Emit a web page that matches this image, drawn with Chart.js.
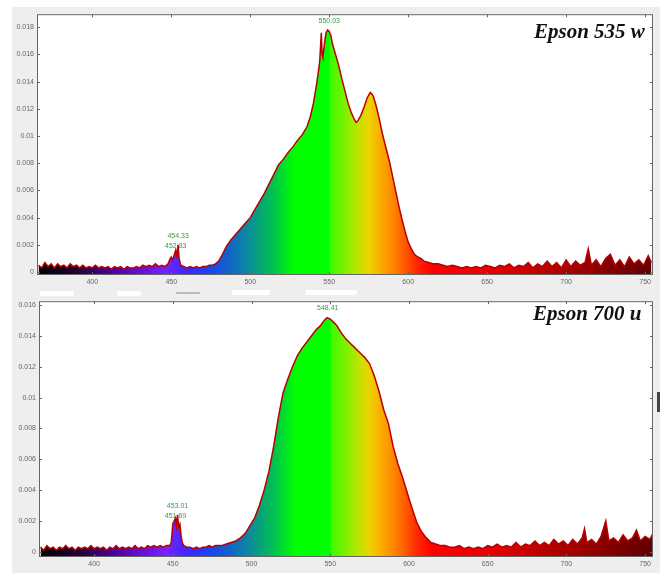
<!DOCTYPE html>
<html>
<head>
<meta charset="utf-8">
<script src="https://cdn.jsdelivr.net/npm/chart.js@4/dist/chart.umd.min.js"></script>
<style>
  body { margin: 0; background: #fff; width: 662px; height: 573px; overflow: hidden; position: relative; font-family: "Liberation Sans", Arial, sans-serif; }
  #panel { position: absolute; left: 12px; top: 7px; width: 648px; height: 566px; background: #eeeeee; }
  canvas { position: absolute; left: 0px; }
  .title { position: absolute; font-family: "Liberation Serif", "DejaVu Serif", serif; font-weight: bold; font-style: italic; font-size: 21px; color: #111; white-space: nowrap; }
  .bar { position: absolute; height: 5px; background: #fff; border-radius: 2px; }
</style>
</head>
<body>
<div id="panel"></div>
<div class="bar" style="left:40px;top:291px;width:34px"></div>
<div class="bar" style="left:117px;top:291px;width:24px"></div>
<div class="bar" style="left:176px;top:292px;width:24px;height:2px;background:#bbb"></div>
<div class="bar" style="left:232px;top:290px;width:38px"></div>
<div class="bar" style="left:305px;top:290px;width:52px"></div>
<div style="position:absolute;left:657px;top:392px;width:3px;height:20px;background:#444"></div>
<canvas id="chart535" width="660" height="284" style="top:7px"></canvas>
<canvas id="chart700" width="660" height="279" style="top:294px"></canvas>
<div class="title" style="left:534px;top:19px">Epson 535 w</div>
<div class="title" style="left:533px;top:301px">Epson 700 u</div>
<script>
// Epson 535 w spectrum (wavelength nm, relative intensity)
const wl535 = [366,368,370,372,374,376,378,380,382,384,386,388,390,392,394,396,398,400,402,404,406,408,410,412,414,416,418,420,422,424,426,428,430,432,434,436,438,440,442,444,446,448,449,450,451,452,452.8,453.5,454.3,455,456,458,460,462,464,466,468,470,472,474,476,478,480,482,485,488,491,494,497,500,503,506,509,512,515,518,521,524,527,530,533,536,538,540,542,543,544,545,545.5,546,547,548,549,550,551,552,554,556,558,560,562,564,566,567,568,570,572,574,576,577,578,580,582,584,586,588,590,592,594,596,598,600,602,604,606,608,610,613,616,619,622,625,628,631,634,637,640,643,646,649,652,655,658,661,664,667,670,673,676,679,682,685,688,691,694,697,700,703,706,709,712,714,716,719,722,725,728,731,734,737,740,743,746,749,752,754];
const val535 = [0.0005,0.0003,0.0007,0.0004,0.0006,0.0003,0.0006,0.0004,0.0005,0.0003,0.0006,0.0004,0.0005,0.0003,0.0005,0.0003,0.0004,0.0003,0.0005,0.0003,0.0004,0.0003,0.0004,0.0002,0.0004,0.0003,0.0004,0.0002,0.0004,0.0003,0.0003,0.0004,0.0003,0.0005,0.0004,0.0005,0.0004,0.0006,0.0004,0.0005,0.0004,0.0006,0.0009,0.0011,0.0009,0.0013,0.0016,0.0012,0.0020,0.0010,0.0005,0.0004,0.0003,0.0004,0.0003,0.0004,0.0003,0.0004,0.0004,0.0005,0.0005,0.0006,0.0008,0.0012,0.0019,0.0024,0.0028,0.0032,0.0036,0.0040,0.0046,0.0052,0.0058,0.0065,0.0072,0.0079,0.0083,0.0088,0.0092,0.0097,0.0101,0.0107,0.0114,0.0124,0.0138,0.0146,0.0155,0.0176,0.0160,0.0158,0.0168,0.0176,0.0178,0.0177,0.0174,0.0168,0.0160,0.0152,0.0142,0.0133,0.0124,0.0117,0.0112,0.0110,0.0111,0.0115,0.0121,0.0128,0.0132,0.0131,0.0129,0.0121,0.0111,0.0100,0.0091,0.0082,0.0071,0.0060,0.0049,0.0039,0.0030,0.0022,0.0017,0.0013,0.0011,0.0010,0.0008,0.0007,0.0006,0.0006,0.0005,0.0004,0.0005,0.0004,0.0003,0.0004,0.0003,0.0004,0.0003,0.0005,0.0004,0.0003,0.0005,0.0004,0.0006,0.0003,0.0005,0.0004,0.0007,0.0003,0.0006,0.0004,0.0008,0.0004,0.0007,0.0003,0.0009,0.0004,0.0008,0.0005,0.0007,0.0017,0.0005,0.0009,0.0004,0.0010,0.0013,0.0005,0.0009,0.0004,0.0011,0.0006,0.0009,0.0005,0.0012,0.0007];
const peaks535 = [550.03, 454.33, 452.83];
const peakVal535 = [0.0178, 0.0020, 0.0016];

// Epson 700 u spectrum
const wl700 = [366,368,370,372,374,376,378,380,382,384,386,388,390,392,394,396,398,400,402,404,406,408,410,412,414,416,418,420,422,424,426,428,430,432,434,436,438,440,442,444,446,448,449,450,450.8,451.7,452.3,453,453.7,454.5,455.3,456,457,459,461,463,465,467,469,471,473,475,477,479,481,484,487,490,493,496,499,502,505,508,511,514,517,520,523,526,529,532,535,538,541,544,546,548,550,552,554,557,560,563,566,569,572,575,578,581,584,587,590,593,596,599,602,605,608,611,614,617,620,623,626,629,632,635,638,641,644,647,650,653,656,659,662,665,668,671,674,677,680,683,686,689,692,695,698,701,704,707,710,711.5,713,716,719,722,725,727,730,733,736,739,742,744.5,747,750,753,755];
const val700 = [0.0003,0.0001,0.0004,0.0002,0.0003,0.0001,0.0003,0.0002,0.0004,0.0002,0.0003,0.0001,0.0003,0.0002,0.0003,0.0002,0.0004,0.0002,0.0003,0.0002,0.0003,0.0001,0.0003,0.0002,0.0004,0.0002,0.0003,0.0002,0.0003,0.0002,0.0004,0.0002,0.0003,0.0002,0.0004,0.0003,0.0004,0.0003,0.0004,0.0003,0.0004,0.0004,0.0006,0.0018,0.0020,0.0022,0.0017,0.0024,0.0016,0.0018,0.0010,0.0006,0.0004,0.0003,0.0003,0.0002,0.0003,0.0002,0.0003,0.0003,0.0004,0.0003,0.0004,0.0004,0.0004,0.0005,0.0006,0.0007,0.0009,0.0012,0.0017,0.0022,0.0030,0.0040,0.0052,0.0068,0.0087,0.0103,0.0112,0.0120,0.0127,0.0132,0.0136,0.0140,0.0144,0.0147,0.0150,0.0152,0.0151,0.0149,0.0147,0.0142,0.0138,0.0135,0.0132,0.0129,0.0126,0.0122,0.0114,0.0104,0.0092,0.0083,0.0068,0.0057,0.0048,0.0038,0.0028,0.0019,0.0013,0.0009,0.0006,0.0005,0.0004,0.0004,0.0003,0.0003,0.0004,0.0002,0.0003,0.0002,0.0003,0.0002,0.0004,0.0003,0.0005,0.0003,0.0004,0.0003,0.0006,0.0003,0.0005,0.0004,0.0007,0.0004,0.0006,0.0004,0.0008,0.0005,0.0007,0.0004,0.0008,0.0005,0.0009,0.0015,0.0006,0.0008,0.0005,0.0010,0.0020,0.0007,0.0009,0.0006,0.0011,0.0007,0.0009,0.0014,0.0007,0.0010,0.0008,0.0012];
const peaks700 = [548.41, 453.01, 451.69];
const peakVal700 = [0.0152, 0.0024, 0.0022];

const xTicks = [400, 450, 500, 550, 600, 650, 700, 750];
const yTicks535 = [0, 0.002, 0.004, 0.006, 0.008, 0.01, 0.012, 0.014, 0.016, 0.018];
const yTicks700 = [0, 0.002, 0.004, 0.006, 0.008, 0.01, 0.012, 0.014, 0.016];

// visible spectrum colours used for the fill
const spectrumStops = [
    [366, '#000000'], [392, '#26003a'], [412, '#4c0098'], [432, '#6a10d8'], [446, '#7424ff'],
    [460, '#3a28ff'], [474, '#1a46f0'], [486, '#1262c8'], [496, '#0c82a8'], [506, '#06a478'],
    [515, '#00c44c'], [522, '#00e424'], [528, '#00ff00'], [550, '#00ff00'], [550.5, '#3cfa00'],
    [560, '#7ef000'], [568, '#bce400'], [575, '#eed200'], [581, '#f8b400'], [590, '#ff8800'],
    [598, '#ff5800'], [606, '#ff2400'], [615, '#ff0000'], [650, '#e80000'], [700, '#a80000'],
    [755, '#600000']
];

function spectrumFill(context) {
    const chart = context.chart;
    const area = chart.chartArea;
    if (!area) return '#00ff00';
    const x = chart.scales.x;
    const g = chart.ctx.createLinearGradient(area.left, 0, area.right, 0);
    spectrumStops.forEach(s => {
        let p = (x.getPixelForValue(s[0]) - area.left) / (area.right - area.left);
        g.addColorStop(Math.min(1, Math.max(0, p)), s[1]);
    });
    return g;
}

// white plot area, frame, inward ticks and green peak labels
const decorPlugin = {
    id: 'decor',
    beforeDraw(chart) {
        const a = chart.chartArea;
        chart.ctx.save();
        chart.ctx.fillStyle = '#fff';
        chart.ctx.fillRect(a.left, a.top, a.right - a.left, a.bottom - a.top);
        chart.ctx.restore();
    },
    afterDraw(chart, args, opts) {
        const ctx = chart.ctx, a = chart.chartArea;
        const x = chart.scales.x, y = chart.scales.y;
        ctx.save();
        ctx.strokeStyle = '#666';
        ctx.lineWidth = 1;
        ctx.strokeRect(a.left + 0.5, a.top + 0.5, a.right - a.left - 1, a.bottom - a.top - 1);
        ctx.beginPath();
        xTicks.forEach(t => {
            const px = Math.round(x.getPixelForValue(t)) + 0.5;
            ctx.moveTo(px, a.bottom); ctx.lineTo(px, a.bottom - 3);
            ctx.moveTo(px, a.top); ctx.lineTo(px, a.top + 3);
        });
        y.ticks.forEach(t => {
            const py = Math.round(y.getPixelForValue(t.value)) + 0.5;
            ctx.moveTo(a.left, py); ctx.lineTo(a.left + 3, py);
            ctx.moveTo(a.right, py); ctx.lineTo(a.right - 3, py);
        });
        ctx.stroke();

        // peak labels, close peaks stacked in one column
        ctx.fillStyle = '#2f9e44';
        ctx.font = '7px "Liberation Sans", Arial, sans-serif';
        ctx.textAlign = 'center';
        ctx.textBaseline = 'middle';
        const peaks = opts.peaks, vals = opts.vals;
        let i = 0;
        while (i < peaks.length) {
            let j = i;
            while (j + 1 < peaks.length && Math.abs(peaks[j + 1] - peaks[i]) < 5) j++;
            const top = Math.max(...vals.slice(i, j + 1));
            const anchor = y.getPixelForValue(top);
            for (let k = i; k <= j; k++) {
                ctx.fillText(peaks[k].toFixed(2), x.getPixelForValue(peaks[k]), anchor - 9 + 10 * (k - i));
            }
            i = j + 1;
        }
        ctx.restore();
    }
};

function createSpectrumChart(canvasId, wl, vals, yTicks, yMin, yMax, axisWidth, peaks, peakVals) {
    const ctx = document.getElementById(canvasId).getContext('2d');
    return new Chart(ctx, {
        type: 'line',
        data: {
            datasets: [{
                data: wl.map((w, i) => ({ x: w, y: vals[i] })),
                borderColor: '#b80000',
                borderWidth: 1.5,
                pointRadius: 0,
                tension: 0,
                fill: 'start',
                backgroundColor: spectrumFill
            }]
        },
        options: {
            responsive: false,
            animation: false,
            layout: { padding: { top: 7, right: 7, left: 0, bottom: 0 } },
            plugins: {
                legend: { display: false },
                tooltip: { enabled: false },
                decor: { peaks: peaks, vals: peakVals }
            },
            scales: {
                x: {
                    type: 'linear',
                    min: 365,
                    max: 755,
                    grid: { display: false, drawTicks: false },
                    border: { display: false },
                    afterBuildTicks: s => { s.ticks = xTicks.map(v => ({ value: v })); },
                    afterFit: s => { s.height = 16; },
                    ticks: { color: '#666', padding: 3, font: { size: 7 }, maxRotation: 0, autoSkip: false, callback: v => String(v) }
                },
                y: {
                    min: yMin,
                    max: yMax,
                    grid: { display: false, drawTicks: false },
                    border: { display: false },
                    afterBuildTicks: s => { s.ticks = yTicks.map(v => ({ value: v })); },
                    afterFit: s => { s.width = axisWidth; },
                    ticks: { color: '#666', padding: 3, font: { size: 7 }, autoSkip: false, callback: v => String(Number(v.toFixed(3))) }
                }
            }
        },
        plugins: [decorPlugin]
    });
}

createSpectrumChart('chart535', wl535, val535, yTicks535, -0.00022, 0.01896, 37, peaks535, peakVal535);
createSpectrumChart('chart700', wl700, val700, yTicks700, -0.00034, 0.01626, 39, peaks700, peakVal700);
</script>
</body>
</html>
